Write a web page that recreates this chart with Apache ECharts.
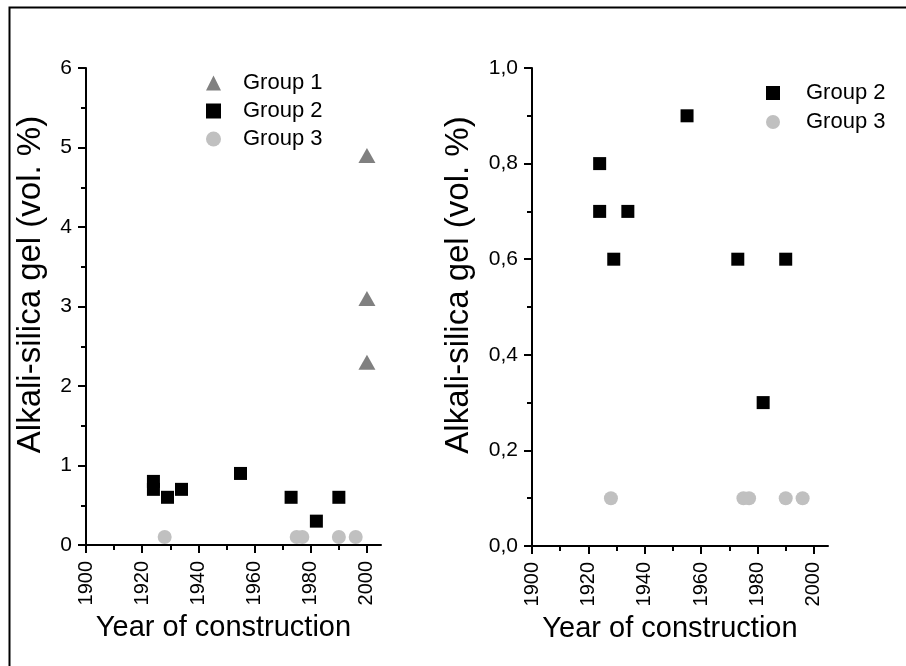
<!DOCTYPE html>
<html>
<head>
<meta charset="utf-8">
<script src="https://cdn.jsdelivr.net/npm/echarts@6/dist/echarts.min.js"></script>
<style>
  html, body { margin: 0; padding: 0; background: #fff; }
  #chart { width: 906px; height: 666px; }
</style>
</head>
<body>
<div id="chart"></div>
<script>
const years1 = [2000, 2000, 2000];
const gel1 = [4.9, 3.1, 2.3];
const years2 = [1924, 1924, 1929, 1934, 1955, 1973, 1982, 1990];
const gel2 = [0.8, 0.7, 0.6, 0.7, 0.9, 0.6, 0.3, 0.6];
const years3 = [1928, 1975, 1977, 1990, 1996];
const gel3 = [0.1, 0.1, 0.1, 0.1, 0.1];
const majorYears = [1900, 1920, 1940, 1960, 1980, 2000];
const minorYears = [1910, 1930, 1950, 1970, 1990];
const xTitle = 'Year of construction';
const yTitle = 'Alkali-silica gel (vol. %)';

const fontFamily = '"Liberation Sans", Arial, sans-serif';
const tri = '#808080';
const sq = '#000000';
const dot = '#c0c0c0';

function pairs(xs, ys) {
  return xs.map((x, i) => [x, ys[i]]);
}

function xMajor(gridIndex) {
  return {
    type: 'value', gridIndex: gridIndex, min: 1900, max: 2005,
    position: 'bottom',
    name: xTitle, nameLocation: 'middle', nameGap: 68,
    // right padding nudges the title left, centred on 1900-2000 like the original
    nameTextStyle: { fontFamily: fontFamily, fontSize: 29, color: '#000', padding: [0, 20, 0, 0] },
    axisLine: { onZero: false, lineStyle: { color: '#000', width: 2 } },
    axisTick: { customValues: majorYears, length: 8, lineStyle: { color: '#000', width: 2 } },
    axisLabel: {
      customValues: majorYears, rotate: 90, margin: 16,
      fontFamily: fontFamily, fontSize: 20, color: '#000',
      formatter: function (v) { return String(v); }
    },
    splitLine: { show: false }
  };
}

function xMinor(gridIndex) {
  return {
    type: 'value', gridIndex: gridIndex, min: 1900, max: 2005,
    position: 'bottom',
    axisLine: { show: false, onZero: false },
    axisTick: { customValues: minorYears, length: 5, lineStyle: { color: '#000', width: 2 } },
    axisLabel: { show: false },
    splitLine: { show: false }
  };
}

function yAxis(gridIndex, max, interval, nameGap, fmt) {
  return {
    type: 'value', gridIndex: gridIndex, min: 0, max: max, interval: interval,
    name: yTitle, nameLocation: 'middle', nameGap: nameGap, nameRotate: 90,
    // left padding pushes the rotated title a little up the axis, like the original
    nameTextStyle: { fontFamily: fontFamily, fontSize: 33, color: '#000', padding: [0, 0, 0, 44] },
    axisLine: { show: true, lineStyle: { color: '#000', width: 2 } },
    axisTick: { show: true, length: 8, lineStyle: { color: '#000', width: 2 } },
    minorTick: { show: true, splitNumber: 2, length: 5, lineStyle: { color: '#000', width: 2 } },
    axisLabel: { margin: 14, fontFamily: fontFamily, fontSize: 21, color: '#000', formatter: fmt },
    splitLine: { show: false }
  };
}

function scatter(name, data, xIdx, yIdx, symbol, size, color) {
  return {
    name: name, type: 'scatter', xAxisIndex: xIdx, yAxisIndex: yIdx,
    data: data, symbol: symbol, symbolSize: size,
    itemStyle: { color: color, opacity: 1 },
    emphasis: { disabled: true }
  };
}

var chart = echarts.init(document.getElementById('chart'), null, { renderer: 'canvas' });

var option = {
  animation: false,
  backgroundColor: '#fff',
  textStyle: { fontFamily: fontFamily },
  graphic: [
    {
      type: 'rect', left: 7, top: 5, silent: true,
      shape: { width: 1000, height: 1000 },
      style: { fill: 'none', stroke: '#000', lineWidth: 2 }
    }
  ],
  grid: [
    { left: 86, top: 68, width: 295, height: 477 },
    { left: 532, top: 68, width: 296, height: 478 }
  ],
  legend: [
    {
      data: ['Group 1', 'Group 2', 'Group 3'],
      orient: 'vertical', left: 206, top: 72, padding: 0,
      itemWidth: 15, itemHeight: 15, itemGap: 6,
      selectedMode: false,
      textStyle: { fontFamily: fontFamily, fontSize: 22, color: '#000', padding: [0, 0, 0, 17] }
    },
    {
      data: ['Group 2', 'Group 3'],
      orient: 'vertical', left: 766, top: 82, padding: 0,
      itemWidth: 14, itemHeight: 14, itemGap: 7,
      selectedMode: false,
      textStyle: { fontFamily: fontFamily, fontSize: 22, color: '#000', padding: [0, 0, 0, 21] }
    }
  ],
  xAxis: [xMajor(0), xMinor(0), xMajor(1), xMinor(1)],
  yAxis: [
    yAxis(0, 6, 1, 39, function (v) { return String(v); }),
    yAxis(1, 1, 0.2, 57, function (v) { return v.toFixed(1).replace('.', ','); })
  ],
  series: [
    scatter('Group 1', pairs(years1, gel1), 0, 0, 'triangle', [17, 15], tri),
    scatter('Group 2', pairs(years2, gel2), 0, 0, 'rect', 13, sq),
    scatter('Group 3', pairs(years3, gel3), 0, 0, 'circle', 14, dot),
    scatter('Group 2', pairs(years2, gel2), 2, 1, 'rect', 13, sq),
    scatter('Group 3', pairs(years3, gel3), 2, 1, 'circle', 14, dot)
  ]
};
chart.setOption(option);
</script>
</body>
</html>
